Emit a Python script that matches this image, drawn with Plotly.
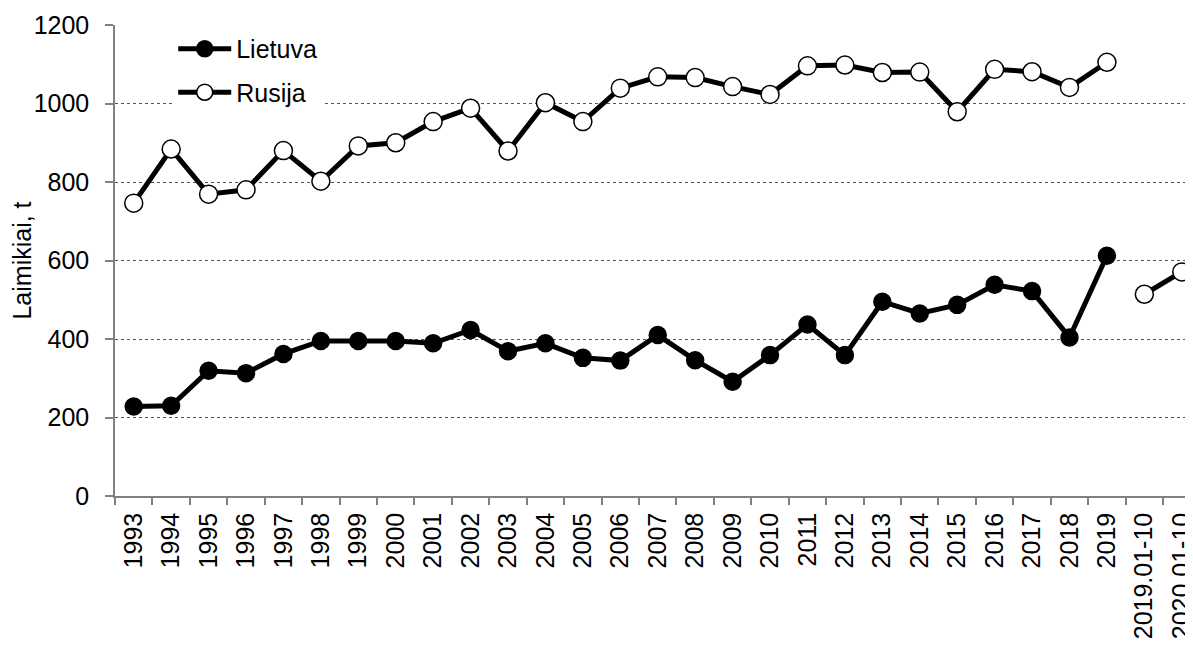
import plotly.graph_objects as go

categories = [str(y) for y in range(1993, 2020)] + ["2019.01-10", "2020.01-10"]
years = categories[:27]
partial = categories[27:]

lietuva = [228, 230, 319, 313, 362, 395, 395, 395, 389, 423, 369, 389, 352, 345,
           410, 346, 291, 359, 437, 359, 495, 465, 487, 538, 522, 404, 612]
rusija = [746, 884, 769, 780, 880, 802, 892, 900, 954, 988, 879, 1002, 954, 1039,
          1068, 1066, 1043, 1023, 1096, 1098, 1079, 1080, 979, 1087, 1081, 1041, 1105]
partial_vals = [514, 571]

FONT = "Arial, Liberation Sans, sans-serif"
FS = 25

fig = go.Figure()
fig.add_trace(go.Scatter(
    x=years, y=lietuva, name="Lietuva", mode="lines+markers",
    line=dict(color="black", width=5),
    marker=dict(size=17, color="black", line=dict(color="black", width=1.5)),
    legendgroup="a",
))
fig.add_trace(go.Scatter(
    x=years, y=rusija, name="Rusija", mode="lines+markers",
    line=dict(color="black", width=5),
    marker=dict(size=18, color="white", line=dict(color="black", width=1.5)),
    legendgroup="b",
))
fig.add_trace(go.Scatter(
    x=partial, y=partial_vals, name="01-10", mode="lines+markers",
    line=dict(color="black", width=5),
    marker=dict(size=18, color="white", line=dict(color="black", width=1.5)),
    showlegend=False,
))

fig.update_layout(
    width=1193, height=648,
    margin=dict(l=107, r=8, t=17, b=160),
    paper_bgcolor="white", plot_bgcolor="white",
    font=dict(family=FONT, size=FS, color="black"),
    showlegend=True,
    legend=dict(
        x=0.054, y=0.998, xanchor="left", yanchor="top",
        bgcolor="white", borderwidth=0,
        font=dict(family=FONT, size=FS, color="black"),
        traceorder="grouped", tracegroupgap=8,
        itemwidth=53,
    ),
)
fig.update_xaxes(
    type="category", categoryorder="array", categoryarray=categories,
    range=[-0.5, 28.3], automargin=False,
    showline=True, linecolor="#7f7f7f", linewidth=1.5,
    ticks="outside", ticklen=7, tickcolor="#7f7f7f", tickwidth=1.5,
    tickson="boundaries", ticklabelstandoff=5,
    tickangle=-90, showgrid=False, zeroline=False,
    tickfont=dict(family=FONT, size=FS, color="black"),
)
fig.update_yaxes(
    range=[0, 1200], dtick=200, tick0=0, automargin=False,
    showline=True, linecolor="#7f7f7f", linewidth=1.5,
    ticks="outside", ticklen=8, tickcolor="#7f7f7f", tickwidth=1.5,
    showgrid=True, gridcolor="#555555", griddash="dot", gridwidth=1,
    zeroline=False,
    ticklabelstandoff=11,
    tickfont=dict(family=FONT, size=FS, color="black"),
    title=dict(text="Laimikiai, t", font=dict(family=FONT, size=FS, color="black"), standoff=0),
)

fig.write_html("out.html")
